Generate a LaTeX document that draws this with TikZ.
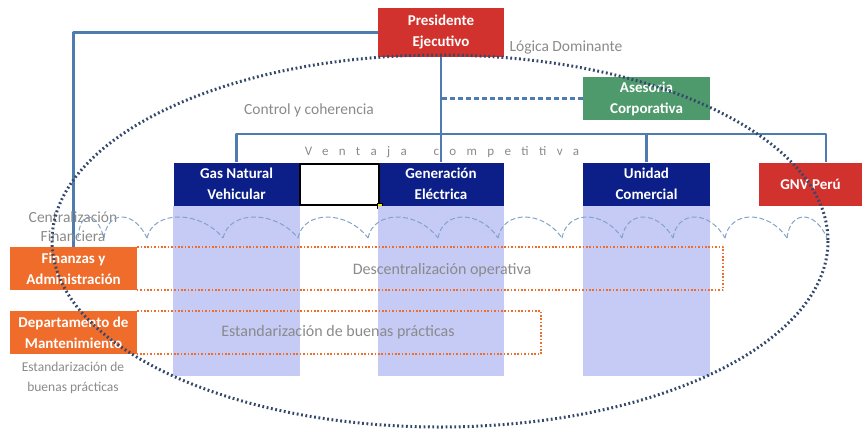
\documentclass[tikz,border=0pt]{standalone}
\usepackage{fontspec}
\setmainfont{Carlito}
\definecolor{rojo}{HTML}{D2322D}
\definecolor{verde}{HTML}{4F9A6C}
\definecolor{azul}{HTML}{0C1E87}
\definecolor{lila}{HTML}{C6CBF6}
\definecolor{naranja}{HTML}{EF6C2B}
\definecolor{linea}{HTML}{4F7CB0}
\definecolor{gris}{HTML}{8A8A8A}
\definecolor{elipse}{HTML}{34486A}
\begin{document}
\begin{tikzpicture}[x=1pt,y=-1pt,line join=round,
	caja/.style={minimum width=126pt,minimum height=43pt,inner sep=0pt,align=center,text=white,font=\fontsize{15}{21}\selectfont\bfseries},
	txt/.style={text=gris,align=center,font=\fontsize{16}{19}\selectfont},
	orla/.style={naranja,line width=2pt,dash pattern=on 1.6pt off 1.8pt},
	onda/.style={linea!70,line width=1pt,dash pattern=on 5pt off 2.5pt},
	conector/.style={linea,line width=2.2pt}]
	\useasboundingbox (0,0) rectangle (862,429);
	\def\fondo{376} \def\barra{134} % alturas
	% cajas
	\node[caja,fill=rojo,minimum height=49pt] (pres) at (441,32.5) {Presidente\\Ejecutivo};
	\node[caja,fill=verde,minimum width=127pt] (ase) at (646.5,98.5) {Asesoria\\Corporativa};
	\node[caja,fill=azul] (gas) at (236.5,184) {Gas Natural\\Vehicular};
	\node[caja,fill=azul] (gen) at (441,184) {Generación\\Eléctrica};
	\node[caja,fill=azul,minimum width=127pt] (uni) at (646.5,184) {Unidad\\Comercial};
	\node[caja,fill=rojo,minimum width=103pt] (gnv) at (810.5,184) {GNV Perú};
	\node[caja,fill=naranja,minimum width=127pt] (fin) at (73.5,268.5) {Finanzas y\\Administración};
	\node[caja,fill=naranja,minimum width=127pt] (dep) at (73.5,332.5) {Departamento de\\Mantenimiento};
	\node[draw=black,line width=2pt,minimum width=79pt,minimum height=41pt,inner sep=0pt] (sel) at (339,184) {};
	\node[fill=yellow!80!orange,draw=black,line width=0.5pt,minimum size=5pt,inner sep=0pt] (esq) at (sel.south east) {};
	% columnas
	\coordinate (bot) at (0,\fondo);
	\foreach \n in {gas,gen,uni}
	\fill[lila] (\n.south west) rectangle (\n.south east |- bot);
	% conectores
	\coordinate (busR) at (826,\barra);
	\draw[conector] (pres.west) -| (fin.north);
	\draw[conector] (pres.south) -- (gen.north);
	\draw[conector] (gas.north) |- (busR) -- (busR |- gnv.north);
	\draw[conector] (uni.north) -- (uni.north |- busR);
	\draw[conector,dash pattern=on 5pt off 3pt] (ase.west) -- (ase.west -| pres.south);
	% orlas punteadas
	\coordinate (finR) at (723,0); \coordinate (depR) at (541,0);
	\draw[orla] (fin.north east) -| (finR |- fin.south) -- (fin.south east);
	\draw[orla] (dep.north east) -| (depR |- dep.south) -- (dep.south east);
	% textos
	\node[txt,font=\fontsize{15.5}{18}\selectfont] (logica) at (566,47) {Lógica Dominante};
	\node[txt,font=\fontsize{15.5}{18}\selectfont] (control) at (309,110) {Control y coherencia};
	\node[txt,font=\fontsize{13}{15}\selectfont\addfontfeature{LetterSpace=80}] (ventaja) at (442,152) {Ventaja\ \ competitiva};
	\node[txt,font=\fontsize{15.5}{19}\selectfont] (centra) at (73,227) {Centralización\\Financiera};
	\node[txt] (descen) at (442,270) {Descentralización operativa};
	\node[txt] (estand) at (338,332) {Estandarización de buenas prácticas};
	\node[txt,font=\fontsize{13.5}{20}\selectfont] (estand2) at (73,378) {Estandarización de\\buenas prácticas};
	% onda
	\foreach \a/\b in {78/104,104/147,147/223,223/298,298/368,368/438,438/498,498/562,562/622,622/673,673/725,725/787,787/827}
	\draw[onda] (\a,238) .. controls ({\a+0.08*(\b-\a)},210) and ({\b-0.3*(\b-\a)},210) .. (\b,238);
	% elipse
	\draw[elipse,line width=3pt,dash pattern=on 1.8pt off 2.6pt] (440,241) ellipse [x radius=388, y radius=186];
\end{tikzpicture}
\end{document}
